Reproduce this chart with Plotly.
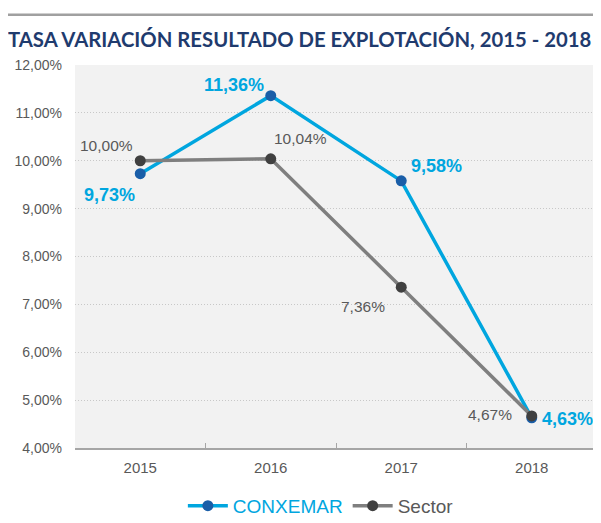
import plotly.graph_objects as go

years = ["2015", "2016", "2017", "2018"]
conxemar = [9.73, 11.36, 9.58, 4.63]
sector = [10.00, 10.04, 7.36, 4.67]
conx_labels = ["9,73%", "11,36%", "9,58%", "4,63%"]
sector_labels = ["10,00%", "10,04%", "7,36%", "4,67%"]
y_ticks = [4, 5, 6, 7, 8, 9, 10, 11, 12]
y_tick_labels = ["4,00%", "5,00%", "6,00%", "7,00%", "8,00%", "9,00%", "10,00%", "11,00%", "12,00%"]

BLUE = "#00a6df"
DBLUE = "#1a5ea8"
GRAY = "#7f7f7f"
DGRAY = "#404040"

fig = go.Figure()
fig.add_trace(go.Scatter(
    x=years, y=conxemar, mode="lines+markers",
    name="<span style='color:%s'>CONXEMAR</span>" % BLUE,
    line=dict(color=BLUE, width=3.5),
    marker=dict(color=DBLUE, size=11),
))
fig.add_trace(go.Scatter(
    x=years, y=sector, mode="lines+markers",
    name="<span style='color:#595959'>Sector</span>",
    line=dict(color=GRAY, width=3.5),
    marker=dict(color=DGRAY, size=11),
))

# label placements (xanchor, xshift, yshift) -- yanchor middle
conx_place = [("right", -4, -21), ("right", -6, 11), ("left", 9, 15), ("left", 9, -1)]
sect_place = [("right", -6, 15), ("left", 2, 20), ("right", -15, -19), ("right", -19, 1)]

for i, (yv, t, (xa, xs, ys)) in enumerate(zip(conxemar, conx_labels, conx_place)):
    fig.add_annotation(x=i, y=yv, text="<b>%s</b>" % t, showarrow=False,
                       xanchor=xa, yanchor="middle", xshift=xs, yshift=ys, borderpad=0,
                       font=dict(color=BLUE, size=18, family="Liberation Sans, Arial"))
for i, (yv, t, (xa, xs, ys)) in enumerate(zip(sector, sector_labels, sect_place)):
    fig.add_annotation(x=i, y=yv, text=t, showarrow=False,
                       xanchor=xa, yanchor="middle", xshift=xs, yshift=ys, borderpad=0,
                       font=dict(color="#595959", size=15.5, family="Liberation Sans, Arial"))

fig.add_shape(type="line", xref="paper", yref="paper", layer="above",
              x0=-0.2, x1=1.05, y0=1.131, y1=1.131,
              line=dict(color="#a0a0a0", width=2.5))

fig.update_layout(
    width=601, height=523,
    margin=dict(l=67, r=12, t=57, b=83, autoexpand=False),
    paper_bgcolor="white", plot_bgcolor="#f2f2f2",
    showlegend=True,
    title=dict(text="<b>TASA VARIACIÓN RESULTADO DE EXPLOTACIÓN, 2015 - 2018</b>",
               x=0.0, xanchor="left", y=1 - 32 / 523, yanchor="middle",
               font=dict(color="#1f3b6e", size=20.3, family="Lato, Open Sans, sans-serif")),
    legend=dict(orientation="h", x=0.471, xanchor="center", xref="paper",
                y=-0.151, yanchor="middle",
                font=dict(size=19, family="Liberation Sans, Arial", color="#595959"),
                bgcolor="rgba(0,0,0,0)", itemwidth=40, tracegroupgap=0),
    font=dict(family="Liberation Sans, Arial", color="#595959"),
)
fig.update_xaxes(
    type="category", range=[-0.5, 3.5], automargin=False,
    showgrid=False, showline=True, linecolor="#a6a6a6", linewidth=1.5,
    ticks="inside", tickson="boundaries", ticklen=5, tickcolor="#a6a6a6",
    tickfont=dict(size=15, color="#595959"), ticklabelstandoff=5,
)
fig.update_yaxes(
    range=[4, 12], tickvals=y_ticks, ticktext=y_tick_labels, automargin=False,
    showgrid=True, gridcolor="#c8c8c8", griddash="1px,2px", gridwidth=1,
    zeroline=False, showline=False,
    tickfont=dict(size=14, color="#595959"), ticklabelstandoff=12,
)

fig.write_html("out.html")
